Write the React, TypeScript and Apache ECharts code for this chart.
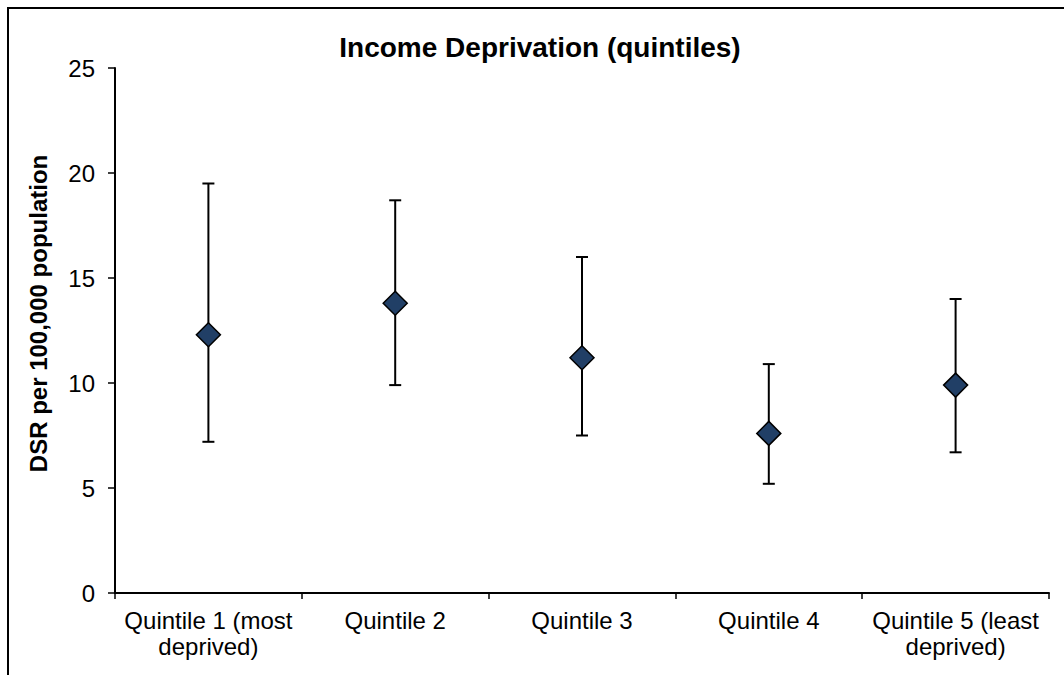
import React, { useEffect, useRef } from "react";
import * as echarts from "echarts";

// Directly standardised rate per 100,000 population by income deprivation quintile
const categories = [
  "Quintile 1 (most\ndeprived)",
  "Quintile 2",
  "Quintile 3",
  "Quintile 4",
  "Quintile 5 (least\ndeprived)",
];
const rate = [12.3, 13.8, 11.2, 7.6, 9.9];
const lowerCI = [7.2, 9.9, 7.5, 5.2, 6.7];
const upperCI = [19.5, 18.7, 16.0, 10.9, 14.0];
const yTicks = { min: 0, max: 25, interval: 5 };

const FONT = "'Liberation Sans', Arial, Helvetica, sans-serif";

export default function App() {
  const ref = useRef<HTMLDivElement>(null);

  useEffect(() => {
    if (!ref.current) return;
    const chart = echarts.init(ref.current, null, { renderer: "svg" });

    const errorData = categories.map((_, i) => [i, lowerCI[i], upperCI[i]]);

    chart.setOption({
      animation: false,
      backgroundColor: "#ffffff",
      textStyle: { fontFamily: FONT, color: "#000" },
      title: {
        text: "Income Deprivation (quintiles)",
        left: 540,
        textAlign: "center",
        top: 33,
        padding: 0,
        textStyle: {
          fontFamily: FONT,
          fontSize: 28,
          fontWeight: "bold",
          color: "#000",
        },
      },
      graphic: [
        {
          type: "polyline",
          shape: { points: [[8, 720], [8, 8], [1120, 8]] },
          style: { stroke: "#000", lineWidth: 2, fill: "none" },
          silent: true,
        },
      ],
      grid: { left: 115, right: 15, top: 68, bottom: 82 },
      xAxis: {
        type: "category",
        data: categories,
        boundaryGap: true,
        axisLine: { lineStyle: { color: "#000", width: 2 } },
        axisTick: {
          show: true,
          alignWithLabel: false,
          interval: 0,
          length: 6,
          lineStyle: { color: "#000", width: 1.5 },
        },
        axisLabel: {
          interval: 0,
          margin: 14,
          fontFamily: FONT,
          fontSize: 24,
          lineHeight: 26,
          color: "#000",
          align: "center",
        },
        splitLine: { show: false },
      },
      yAxis: {
        type: "value",
        min: yTicks.min,
        max: yTicks.max,
        interval: yTicks.interval,
        name: "DSR per 100,000 population",
        nameLocation: "middle",
        nameGap: 65,
        nameTextStyle: {
          fontFamily: FONT,
          fontSize: 24,
          fontWeight: "bold",
          color: "#000",
          padding: [0, 0, 0, 34],
        },
        axisLine: { show: true, lineStyle: { color: "#000", width: 2 } },
        axisTick: {
          show: true,
          length: 7,
          lineStyle: { color: "#000", width: 1.5 },
        },
        axisLabel: {
          margin: 20,
          fontFamily: FONT,
          fontSize: 24,
          color: "#000",
        },
        splitLine: { show: false },
      },
      series: [
        {
          type: "custom",
          name: "95% CI",
          data: errorData,
          z: 1,
          renderItem: (params: any, api: any) => {
            const idx = api.value(0);
            const lo = api.coord([idx, api.value(1)]);
            const hi = api.coord([idx, api.value(2)]);
            const half = 6;
            const style = { stroke: "#000", lineWidth: 2 };
            return {
              type: "group",
              children: [
                { type: "line", shape: { x1: hi[0], y1: hi[1], x2: lo[0], y2: lo[1] }, style },
                { type: "line", shape: { x1: hi[0] - half, y1: hi[1], x2: hi[0] + half, y2: hi[1] }, style },
                { type: "line", shape: { x1: lo[0] - half, y1: lo[1], x2: lo[0] + half, y2: lo[1] }, style },
              ],
            };
          },
        },
        {
          type: "scatter",
          name: "DSR",
          data: rate,
          z: 5,
          symbol: "diamond",
          symbolSize: [24, 24],
          itemStyle: {
            color: "#213F66",
            borderColor: "#000",
            borderWidth: 1.5,
            opacity: 1,
          },
        },
      ],
    });

    return () => chart.dispose();
  }, []);

  return (
    <div
      style={{
        position: "fixed",
        left: 0,
        top: 0,
        width: 1064,
        height: 675,
        overflow: "hidden",
        background: "#fff",
      }}
    >
      <div ref={ref} style={{ width: 1064, height: 675 }} />
    </div>
  );
}
